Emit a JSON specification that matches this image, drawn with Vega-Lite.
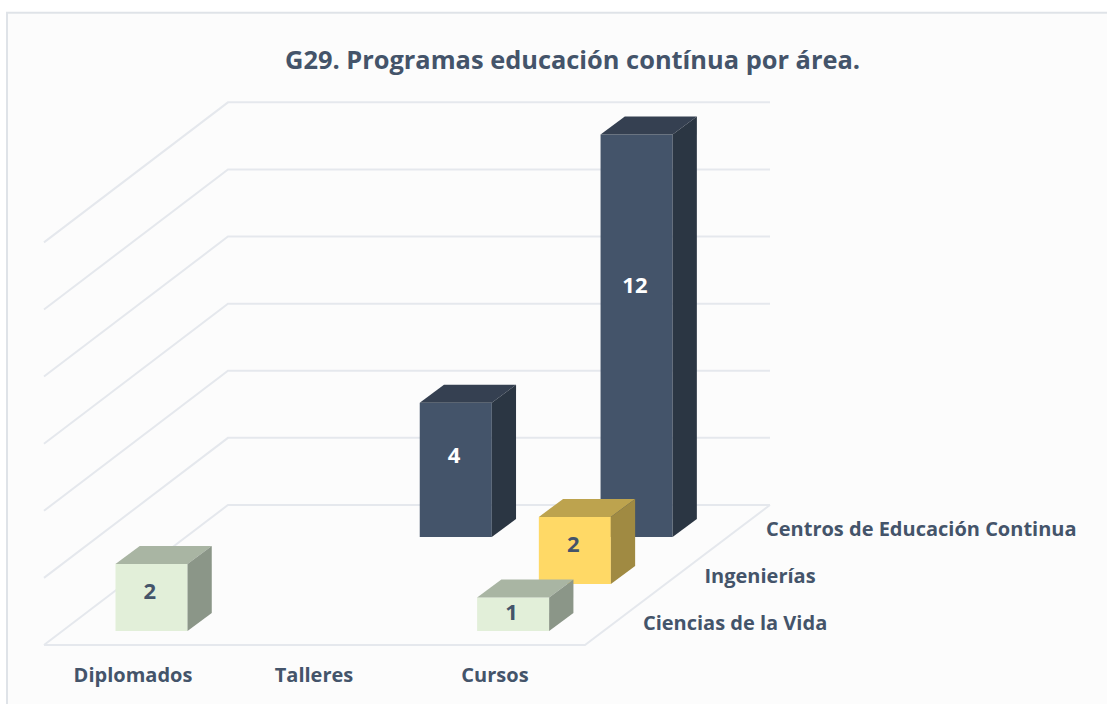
{
"$schema":"https://vega.github.io/schema/vega-lite/v6.json",
"width":1107,"height":704,"padding":0,"autosize":{"type":"none"},"background":"#ffffff",
"title":{"text":"G29. Programas educación contínua por área.","font":"Open Sans","fontSize":25.4,"fontWeight":"bold","color":"#44546a","anchor":"middle","frame":"group","baseline":"middle","dx":19,"dy":86,"offset":0},
"config":{"view":{"stroke":null}},
"datasets":{
 "barras":[
  {"tipo":"Cursos","area":"Centros de Educación Continua","valor":12},
  {"tipo":"Talleres","area":"Centros de Educación Continua","valor":4},
  {"tipo":"Cursos","area":"Ingenierías","valor":2},
  {"tipo":"Diplomados","area":"Ciencias de la Vida","valor":2},
  {"tipo":"Cursos","area":"Ciencias de la Vida","valor":1}
 ],
 "tipos":[{"tipo":"Diplomados"},{"tipo":"Talleres"},{"tipo":"Cursos"}],
 "areas":[{"area":"Ciencias de la Vida"},{"area":"Ingenierías"},{"area":"Centros de Educación Continua"}],
 "rejilla":[{"v":0},{"v":2},{"v":4},{"v":6},{"v":8},{"v":10},{"v":12}]
},
"layer":[
 {"data":{"values":[{"panel":"marco"}]},
  "mark":{"type":"rect","fill":"#fcfcfc","stroke":"#dfe3e8","strokeWidth":2},
  "encoding":{
   "x":{"datum":-0.5994,"type":"quantitative","scale":{"domain":[-0.638,5.478],"nice":false,"zero":false},"axis":null},
   "x2":{"datum":6.5},
   "y":{"datum":18.43,"type":"quantitative","scale":{"domain":[-2.176,18.807],"nice":false,"zero":false},"axis":null},
   "y2":{"datum":-4}
  }},
 {"data":{"name":"rejilla"},
  "transform":[
   {"calculate":"[0,1,2]","as":"k"},
   {"calculate":"[-0.395,0.6215,3.616]","as":"cx"},
   {"calculate":"[datum.v-0.417,datum.v+3.756,datum.v+3.756]","as":"cy"},
   {"flatten":["k","cx","cy"]}
  ],
  "mark":{"type":"line","stroke":"#e5e8ed","strokeWidth":2},
  "encoding":{
   "x":{"field":"cx","type":"quantitative","axis":null},
   "y":{"field":"cy","type":"quantitative","axis":null},
   "order":{"field":"k","type":"quantitative"},
   "detail":{"field":"v"}
  }},
 {"data":{"values":[{"linea":"suelo"}]},
  "transform":[
   {"calculate":"[0,1,2]","as":"k"},
   {"calculate":"[-0.395,2.594,3.616]","as":"cx"},
   {"calculate":"[-0.417,-0.417,3.756]","as":"cy"},
   {"flatten":["k","cx","cy"]}
  ],
  "mark":{"type":"line","stroke":"#e5e8ed","strokeWidth":2},
  "encoding":{
   "x":{"field":"cx","type":"quantitative","axis":null},
   "y":{"field":"cy","type":"quantitative","axis":null},
   "order":{"field":"k","type":"quantitative"}
  }},
 {"data":{"name":"barras"},
  "transform":[
   {"calculate":"indexof(['Diplomados','Talleres','Cursos'],datum.tipo)","as":"c"},
   {"calculate":"indexof(['Ciencias de la Vida','Ingenierías','Centros de Educación Continua'],datum.area)","as":"s"},
   {"calculate":"0.999*datum.c+0.341*datum.s","as":"x0"},
   {"calculate":"datum.x0+0.398","as":"x1"},
   {"calculate":"1.4*datum.s","as":"b"},
   {"calculate":"datum.b+datum.valor","as":"t"},
   {"calculate":"['frente','arriba','lado']","as":"cara"},
   {"flatten":["cara"]},
   {"calculate":"datum.area+'|'+datum.cara","as":"color"},
   {"calculate":"datum.tipo+'|'+datum.area+'|'+datum.cara","as":"clave"},
   {"calculate":"[0,1,2,3]","as":"k"},
   {"calculate":"datum.cara==='frente'?[datum.x0,datum.x1,datum.x1,datum.x0]:datum.cara==='arriba'?[datum.x0,datum.x1,datum.x1+0.134,datum.x0+0.134]:[datum.x1,datum.x1+0.134,datum.x1+0.134,datum.x1]","as":"cx"},
   {"calculate":"datum.cara==='frente'?[datum.b,datum.b,datum.t,datum.t]:datum.cara==='arriba'?[datum.t,datum.t,datum.t+0.5365,datum.t+0.5365]:[datum.b,datum.b+0.5365,datum.t+0.5365,datum.t]","as":"cy"},
   {"flatten":["k","cx","cy"]}
  ],
  "mark":{"type":"line","filled":true,"strokeWidth":0},
  "encoding":{
   "x":{"field":"cx","type":"quantitative","axis":null},
   "y":{"field":"cy","type":"quantitative","axis":null},
   "order":{"field":"k","type":"quantitative"},
   "detail":{"field":"clave"},
   "color":{"field":"color","type":"nominal","legend":null,"scale":{
    "domain":["Centros de Educación Continua|frente","Centros de Educación Continua|arriba","Centros de Educación Continua|lado","Ingenierías|frente","Ingenierías|arriba","Ingenierías|lado","Ciencias de la Vida|frente","Ciencias de la Vida|arriba","Ciencias de la Vida|lado"],
    "range":["#44546a","#354051","#2b3643","#ffd966","#bda34e","#a08a42","#e2efd9","#a9b5a3","#8b9688"]}}
  }},
 {"data":{"name":"barras"},
  "transform":[
   {"calculate":"indexof(['Diplomados','Talleres','Cursos'],datum.tipo)","as":"c"},
   {"calculate":"indexof(['Ciencias de la Vida','Ingenierías','Centros de Educación Continua'],datum.area)","as":"s"},
   {"calculate":"0.999*datum.c+0.341*datum.s+0.19","as":"px"},
   {"calculate":"1.4*datum.s+0.63*datum.valor-0.09","as":"py"}
  ],
  "mark":{"type":"text","font":"Open Sans","fontSize":22,"fontWeight":"bold","baseline":"middle","align":"center"},
  "encoding":{
   "x":{"field":"px","type":"quantitative","axis":null},
   "y":{"field":"py","type":"quantitative","axis":null},
   "text":{"field":"valor","type":"quantitative"},
   "color":{"field":"area","type":"nominal","legend":null,"scale":{"domain":["Centros de Educación Continua","Ingenierías","Ciencias de la Vida"],"range":["#ffffff","#44546a","#44546a"]}}
  }},
 {"data":{"name":"tipos"},
  "transform":[
   {"calculate":"indexof(['Diplomados','Talleres','Cursos'],datum.tipo)+0.0967","as":"px"},
   {"calculate":"-1.34","as":"py"}
  ],
  "mark":{"type":"text","font":"Open Sans","fontSize":20,"fontWeight":"bold","baseline":"middle","align":"center","color":"#44546a"},
  "encoding":{
   "x":{"field":"px","type":"quantitative","axis":null},
   "y":{"field":"py","type":"quantitative","axis":null},
   "text":{"field":"tipo"}
  }},
 {"data":{"name":"areas"},
  "transform":[
   {"calculate":"indexof(['Ciencias de la Vida','Ingenierías','Centros de Educación Continua'],datum.area)","as":"s"},
   {"calculate":"2.914+0.34*datum.s","as":"px"},
   {"calculate":"0.208+1.4*datum.s","as":"py"}
  ],
  "mark":{"type":"text","font":"Open Sans","fontSize":20,"fontWeight":"bold","baseline":"middle","align":"left","color":"#44546a"},
  "encoding":{
   "x":{"field":"px","type":"quantitative","axis":null},
   "y":{"field":"py","type":"quantitative","axis":null},
   "text":{"field":"area"}
  }}
],
"resolve":{"scale":{"color":"independent"}}
}
